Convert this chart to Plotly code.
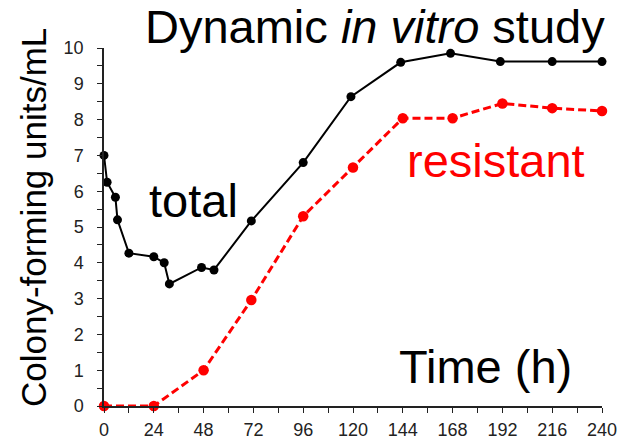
import plotly.graph_objects as go

# Data
total_time = [0, 1.5, 5.5, 6.5, 12, 24, 29, 31.5, 47, 53, 71, 96, 119, 143, 167, 191, 216, 240]
total_cfu = [7.0, 6.25, 5.83, 5.2, 4.27, 4.17, 4.0, 3.41, 3.87, 3.8, 5.17, 6.8, 8.64, 9.6, 9.85, 9.62, 9.62, 9.62]

resistant_time = [0, 24, 48, 71, 96, 120, 144, 168, 192, 216, 240]
resistant_cfu = [0, 0, 1.0, 2.96, 5.3, 6.66, 8.04, 8.04, 8.45, 8.32, 8.24]

x_ticks = [0, 24, 48, 72, 96, 120, 144, 168, 192, 216, 240]
y_ticks = [0, 1, 2, 3, 4, 5, 6, 7, 8, 9, 10]

W, H = 623, 443
L, R, T, B = 104, 21, 48, 37
pw, ph = W - L - R, H - T - B

def px(x):
    return (x - L) / pw

def py(y):
    return (H - B - y) / ph

fig = go.Figure()
fig.add_trace(go.Scatter(
    x=resistant_time, y=resistant_cfu, mode="lines+markers",
    line=dict(color="#ff0000", width=3, dash="8px,4px"),
    marker=dict(color="#ff0000", size=10.5),
    cliponaxis=False, showlegend=False))
fig.add_trace(go.Scatter(
    x=total_time, y=total_cfu, mode="lines+markers",
    line=dict(color="#000000", width=2),
    marker=dict(color="#000000", size=9),
    cliponaxis=False, showlegend=False))

font = "Liberation Sans, Arial, sans-serif"
fig.update_layout(
    width=W, height=H, autosize=False,
    margin=dict(l=L, r=R, t=T, b=B, pad=0, autoexpand=False),
    paper_bgcolor="white", plot_bgcolor="white",
    font=dict(family=font, color="#000"),
    xaxis=dict(range=[0, 240], tickvals=x_ticks, showgrid=False, zeroline=False,
               automargin=False,
               showline=True, linecolor="#222", linewidth=1.5,
               ticks="outside", ticklen=5, tickwidth=1.2, tickcolor="#222",
               minor=dict(dtick=12, ticks="outside", ticklen=5, tickwidth=1.2, tickcolor="#222"),
               tickfont=dict(size=18, color="#222", family=font), ticklabelstandoff=2),
    yaxis=dict(range=[0, 10], tickvals=y_ticks, showgrid=False, zeroline=False,
               automargin=False,
               showline=True, linecolor="#222", linewidth=1.5,
               ticks="outside", ticklen=5, tickwidth=1.2, tickcolor="#222",
               minor=dict(dtick=0.5, ticks="outside", ticklen=5, tickwidth=1.2, tickcolor="#222"),
               tickfont=dict(size=18, color="#222", family=font), ticklabelstandoff=10),
)

big = 47
fig.add_annotation(text="Dynamic <i>in vitro</i> study", xref="paper", yref="paper",
                   x=px(375), y=py(27), xanchor="center", yanchor="middle",
                   showarrow=False, font=dict(size=big, color="#000", family=font))
fig.add_annotation(text="total", xref="paper", yref="paper",
                   x=px(193), y=py(200), xanchor="center", yanchor="middle",
                   showarrow=False, font=dict(size=big, color="#000", family=font))
fig.add_annotation(text="resistant", xref="paper", yref="paper",
                   x=px(496), y=py(160), xanchor="center", yanchor="middle",
                   showarrow=False, font=dict(size=big, color="#ff0000", family=font))
fig.add_annotation(text="Time (h)", xref="paper", yref="paper",
                   x=px(485), y=py(366), xanchor="center", yanchor="middle",
                   showarrow=False, font=dict(size=big, color="#000", family=font))
fig.add_annotation(text="Colony-forming units/mL", xref="paper", yref="paper",
                   x=px(33), y=py(218), xanchor="center", yanchor="middle", textangle=-90,
                   showarrow=False, font=dict(size=35, color="#000", family=font))

fig.write_html("out.html", config={"displayModeBar": False},
               post_script="document.body.style.margin='0';document.body.style.overflow='hidden';")
